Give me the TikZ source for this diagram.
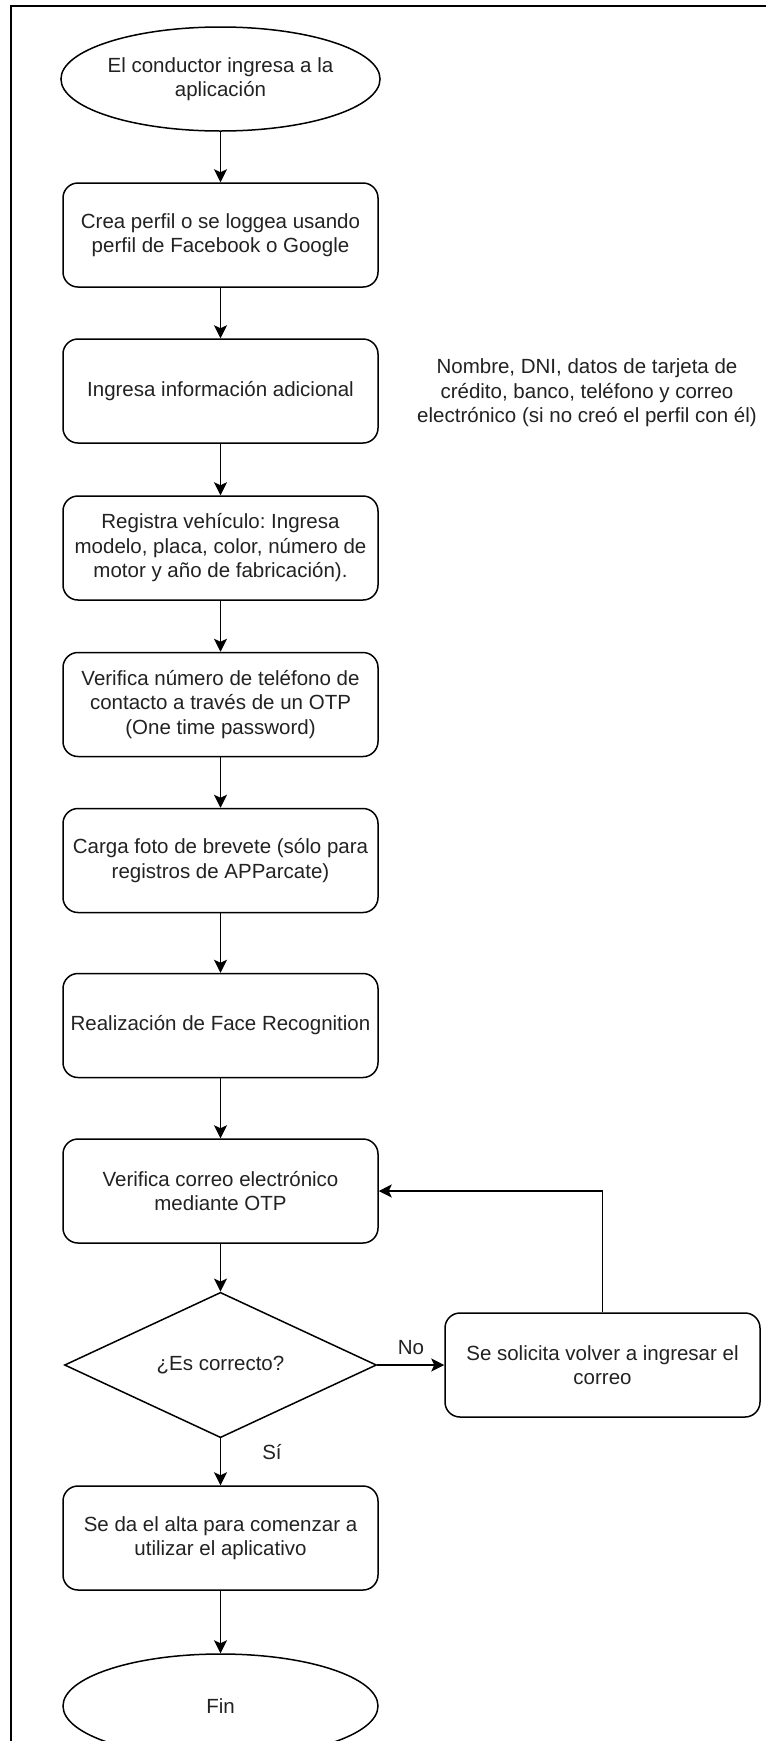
\documentclass[tikz,border=0pt]{standalone}
\usepackage{fontspec}
\setmainfont{Liberation Sans}
\frenchspacing
\usetikzlibrary{arrows.meta,shapes.geometric}
\begin{document}
\begin{tikzpicture}[x=1pt,y=-1pt,
  every node/.style={font=\fontsize{20.5}{24.5}\selectfont, text={rgb,255:red,34;green,34;blue,34}},
  proc/.style={draw, rounded corners=15pt, minimum width=315pt, minimum height=104pt, align=center, inner sep=0pt, line width=1.5pt},
  term/.style={draw, ellipse, minimum width=315pt, minimum height=104pt, align=center, inner sep=0pt, line width=1.5pt},
  dec/.style={draw, diamond, minimum width=312pt, minimum height=137pt, align=center, inner sep=0pt, line width=1.5pt},
  conn/.style={-{Stealth[length=13pt,width=13pt,inset=3pt]}, line width=1.5pt},
  lbl/.style={align=center, inner sep=0pt}]
\useasboundingbox (0,0) rectangle (766,1741);
\fill[white] (0,0) rectangle (766,1741);
\draw[line width=1.5pt] (11,1741) -- (11,6) -- (766,6);

\node[term] (start) at (220.5,79) {El conductor ingresa a la\\aplicación};
\node[proc] (b1) at (220.5,235) {Crea perfil o se loggea usando\\perfil de Facebook o Google};
\node[proc] (b2) at (220.5,391) {Ingresa información adicional};
\node[lbl] (note) at (587,393) {Nombre, DNI, datos de tarjeta de\\crédito, banco, teléfono y correo\\electrónico (si no creó el perfil con él)};
\node[proc] (b3) at (220.5,548) {Registra vehículo: Ingresa\\modelo, placa, color, número de\\motor y año de fabricación).};
\node[proc] (b4) at (220.5,704.5) {Verifica número de teléfono de\\contacto a través de un OTP\\(One time password)};
\node[proc] (b5) at (220.5,860.5) {Carga foto de brevete (sólo para\\registros de APParcate)};
\node[proc] (b6) at (220.5,1025.5) {Realización de Face Recognition};
\node[proc] (b7) at (220.5,1191) {Verifica correo electrónico\\mediante OTP};
\node[dec] (d1) at (220.5,1365) {¿Es correcto?};
\node[proc] (sol) at (602.5,1365) {Se solicita volver a ingresar el\\correo};
\node[proc] (b8) at (220.5,1538) {Se da el alta para comenzar a\\utilizar el aplicativo};
\node[term] (fin) at (220.5,1706) {Fin};
\node[lbl] (no) at (411,1348) {No};
\node[lbl] (si) at (272,1452) {Sí};

\draw[conn] (start) -- (b1);
\draw[conn] (b1) -- (b2);
\draw[conn] (b2) -- (b3);
\draw[conn] (b3) -- (b4);
\draw[conn] (b4) -- (b5);
\draw[conn] (b5) -- (b6);
\draw[conn] (b6) -- (b7);
\draw[conn] (b7) -- (d1);
\draw[conn] (d1.east) -- (sol.west);
\draw[conn] (d1) -- (b8);
\draw[conn] (b8) -- (fin);
\draw[conn] (sol.north) |- (b7.east);
\end{tikzpicture}
\end{document}
